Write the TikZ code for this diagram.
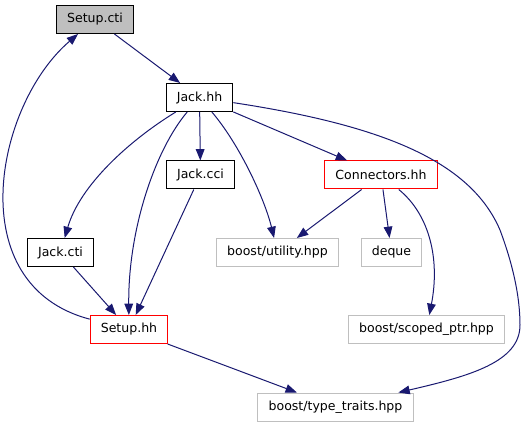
\documentclass[tikz,border=0pt]{standalone}
\usepackage{fontspec}
\setmainfont{DejaVu Sans}
\usetikzlibrary{arrows.meta}
\definecolor{edgeblue}{HTML}{191970}
\definecolor{boxgray}{HTML}{BFBFBF}
\begin{document}
\begin{tikzpicture}[x=0.75pt, y=-0.75pt,
		box/.style={draw=black, text=black, line width=0.75pt, minimum height=21pt, inner xsep=8pt,
			font=\fontsize{9.4}{11}\selectfont},
		redbox/.style={box, draw=red},
		graybox/.style={box, draw=boxgray},
		>={Triangle[length=8.5pt, width=6.5pt]},
		edge/.style={edgeblue, line width=0.75pt, ->}]
		\useasboundingbox (0,0) rectangle (528,427);
		\node[box, fill=boxgray] (A) at (95,19.5) {Setup.cti};
		\node[box] (B) at (199.5,97.5) {Jack.hh};
		\node[box] (C) at (200.5,175) {Jack.cci};
		\node[redbox] (D) at (381,175) {Connectors.hh};
		\node[box] (E) at (60.5,252.5) {Jack.cti};
		\node[graybox] (F) at (277.5,252.5) {boost/utility.hpp};
		\node[graybox] (G) at (391.5,252.5) {deque};
		\node[redbox] (H) at (129,329.5) {Setup.hh};
		\node[graybox] (I) at (426.5,329.5) {boost/scoped\_ptr.hpp};
		\node[graybox] (J) at (335.5,407) {boost/type\_traits.hpp};
		
		\draw[edge] (A) to (B);
		\draw[edge] (B) to (C);
		\draw[edge] (B) to (D);
		\draw[edge] (B) .. controls (240,145) and (265,200) .. (F);
		\draw[edge] (B) .. controls (130,140) and (80,185) .. (E);
		\draw[edge] (B) .. controls (155,150) and (128,230) .. (H);
		\draw[edge] (B) .. controls (380,125) and (470,160) .. (500,230)
			.. controls (512,262) and (520,295) .. (520,325)
			.. controls (520,362) and (470,376) .. (J);
		\draw[edge] (C) to (H);
		\draw[edge] (E) to (H);
		\draw[edge] (H) .. controls (-40,285) and (-5,105) .. (A);
		\draw[edge] (H) to (J);
		\draw[edge] (D) to (F);
		\draw[edge] (D) to (G);
		\draw[edge] (D) .. controls (430,215) and (440,260) .. (I);
	\end{tikzpicture}
\end{document}
